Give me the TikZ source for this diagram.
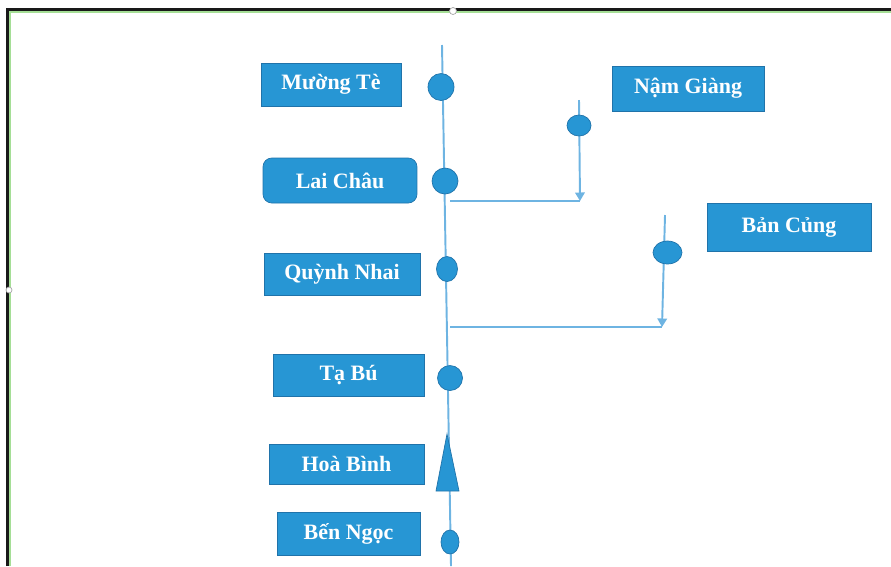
\documentclass[tikz,border=0pt]{standalone}
\usepackage{fontspec}
\setmainfont{Liberation Serif}
\usetikzlibrary{shapes.geometric, arrows.meta, positioning, calc}
\definecolor{stblue}{RGB}{39,150,212}
\definecolor{stdark}{RGB}{32,115,170}
\definecolor{stline}{RGB}{110,180,226}
\definecolor{stframe}{RGB}{25,25,25}
\definecolor{stgreen}{RGB}{165,222,150}

\begin{document}
\begin{tikzpicture}[x=0.02cm, y=-0.02cm,
  stn/.style={rectangle, draw=stdark, fill=stblue, text=white, inner sep=2pt, font=\fontsize{12.5}{14}\selectfont\bfseries},
  dot/.style={ellipse, draw=stdark, fill=stblue, inner sep=0pt},
  lnk/.style={draw=stline, line width=1.1pt},
  arr/.style={lnk, -{Triangle[length=1.7mm, width=1.9mm]}}
]
\useasboundingbox (0,0) rectangle (891,566);
% frame
\draw[stgreen, line width=0.9pt] (10,566) -- (10,12) -- (891,12);
\draw[stframe, line width=1.4pt] (7.5,566) -- (7.5,9.5) -- (891,9.5);
\filldraw[fill=white, draw=gray!70] (453,11) circle (0.07cm);
\filldraw[fill=white, draw=gray!70] (9,290) circle (0.06cm);

% main line
\coordinate (top) at (442,45);
\coordinate (bot) at (451,566);
\draw[lnk] (top) -- (bot);

% stations
\node[stn, minimum width=2.8cm, minimum height=0.86cm] (mte) at (331,84.5) {Mường Tè};
\node[stn, rounded corners=5pt, minimum width=3.08cm, minimum height=0.9cm] (lch) at (340,180.5) {Lai Châu};
\node[stn, minimum width=3.12cm, minimum height=0.84cm] (qnh) at (342,274) {Quỳnh Nhai};
\node[stn, minimum width=3.02cm, minimum height=0.84cm] (tbu) at (348.5,375) {Tạ Bú};
\node[stn, minimum width=3.1cm, minimum height=0.8cm] (hbi) at (346.5,464) {Hoà Bình};
\node[stn, minimum width=2.86cm, minimum height=0.86cm] (bng) at (348.5,533.5) {Bến Ngọc};
\node[stn, minimum width=3.04cm, minimum height=0.9cm] (ngi) at (688,88.5) {Nậm Giàng};
\node[stn, minimum width=3.28cm, minimum height=0.96cm] (bcu) at (789,227) {Bản Củng};

% branches
\coordinate (j1) at (450,201);
\coordinate (c1) at (580,201);
\coordinate (b1) at (579,100);
\coordinate (j2) at (450,327);
\coordinate (c2) at (662,327);
\coordinate (b2) at (665,215);
\draw[lnk] (j1) -- (c1);
\draw[arr] (b1) -- (c1);
\draw[lnk] (j2) -- (c2);
\draw[arr] (b2) -- (c2);

% dams
\node[dot, minimum width=0.52cm, minimum height=0.54cm] (dmte) at (441,87) {};
\node[dot, minimum width=0.52cm, minimum height=0.52cm] (dlch) at (445,181) {};
\node[dot, minimum width=0.42cm, minimum height=0.5cm] (dqnh) at (447,269) {};
\node[dot, minimum width=0.5cm, minimum height=0.5cm] (dtbu) at (450,378) {};
\node[dot, minimum width=0.36cm, minimum height=0.48cm] (dbng) at (450,542) {};
\node[dot, minimum width=0.48cm, minimum height=0.42cm] (dngi) at (579,125.5) {};
\node[dot, minimum width=0.58cm, minimum height=0.46cm] (dbcu) at (667.5,252.5) {};
\filldraw[draw=stdark, fill=stblue] (447,434) -- (459,491) -- (436,491) -- cycle;
\end{tikzpicture}
\end{document}
